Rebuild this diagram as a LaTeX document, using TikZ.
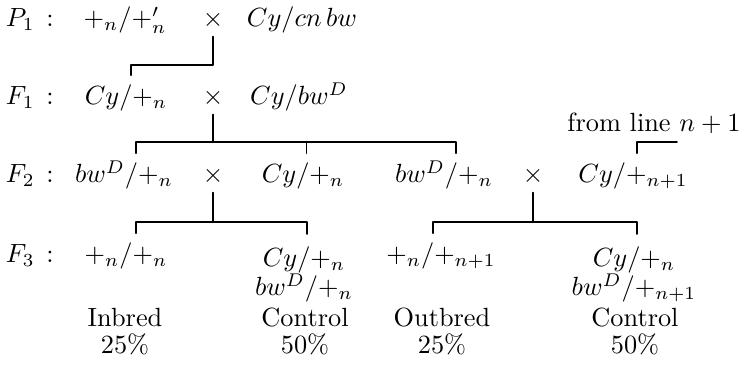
\documentclass[tikz,border=0pt]{standalone}
\usetikzlibrary{calc}
\begin{document}
\begin{tikzpicture}[line join=round, line cap=round, x=0.38pt, y=-0.38pt, line width=0.7pt]
	\tikzset{every node/.style={inner sep=0pt},
		geno/.style={anchor=base, outer sep=3.8pt, text height=7.5pt, text depth=2.5pt},
		cross/.style={anchor=base, inner sep=2.5pt},
		row/.style={anchor=base west},
		twoline/.style={anchor=north, outer sep=5pt, align=center, font=\fontsize{10pt}{11pt}\selectfont},
		share/.style={anchor=north, align=center, font=\fontsize{10pt}{10.4pt}\selectfont}}
	\useasboundingbox (0,0) rectangle (744,365);
	\draw (5,27) node[row] (p1) {$P_1\,:$};
	\draw (125,27) node[geno] (p1a) {$+_n/+'_n$};
	\draw (213,27) node[cross] (p1x) {$\times$};
	\draw (302,27) node[geno] (p1b) {$Cy/cn\,bw$};
	\draw (5,105) node[row] (f1) {$F_1\,:$};
	\draw (126,105) node[geno] (f1a) {$Cy/+_n$};
	\draw (213,105) node[cross] (f1x) {$\times$};
	\draw (299,105) node[geno] (f1b) {$Cy/bw^D$};
	\draw (5,183) node[row] (f2) {$F_2\,:$};
	\draw (124,183) node[geno] (f2a) {$bw^D/+_n$};
	\draw (213,183) node[cross] (f2x) {$\times$};
	\draw (303,183) node[geno] (f2b) {$Cy/+_n$};
	\draw (444,183) node[geno] (f2c) {$bw^D/+_n$};
	\draw (533,183) node[cross] (f2y) {$\times$};
	\draw (633,183) node[geno] (f2d) {$Cy/+_{n+1}$};
	\draw (654,132) node[anchor=base] (from) {from line $n+1$};
	\draw (5,263) node[row] (f3) {$F_3\,:$};
	\draw (126,263) node[geno] (f3a) {$+_n/+_n$};
	\draw (304,234) node[twoline] (f3b) {$Cy/+_n$\\$bw^D/+_n$};
	\draw (441,263) node[geno] (f3c) {$+_n/+_{n+1}$};
	\draw (634,234) node[twoline] (f3d) {$Cy/+_n$\\$bw^D/+_{n+1}$};
	\draw (125,307) node[share] (inb) {Inbred\\25\%};
	\draw (305,307) node[share] (con1) {Control\\50\%};
	\draw (442,307) node[share] (outb) {Outbred\\25\%};
	\draw (635,307) node[share] (con2) {Control\\50\%};
	\draw (p1x.south) |- ($(f1a.north)+(5,-10)$) -- ($(f1a.north)+(5,0)$);
	\draw ($(f2a.north)+(12,0)$) -- ++(0,-11) coordinate (bar2) -| ($(f2c.north)+(12,0)$);
	\draw ($(f2b.north)+(3.5,0)$) -- ++(0,-11);
	\draw (f1x.south) -- (f1x.south |- bar2);
	\draw ($(f2d.north)+(4,0)$) -- ++(0,-11) -- ++(40,0);
	\draw ($(f3a.north)+(10,0)$) -- ++(0,-11) coordinate (bar3) -| ($(f3b.north)+(3,0)$);
	\draw (f2x.south) -- (f2x.south |- bar3);
	\draw ($(f3c.north)+(-8,0)$) -- ++(0,-11) coordinate (bar4) -| ($(f3d.north)+(3,0)$);
	\draw (f2y.south) -- (f2y.south |- bar4);
\end{tikzpicture}
\end{document}
